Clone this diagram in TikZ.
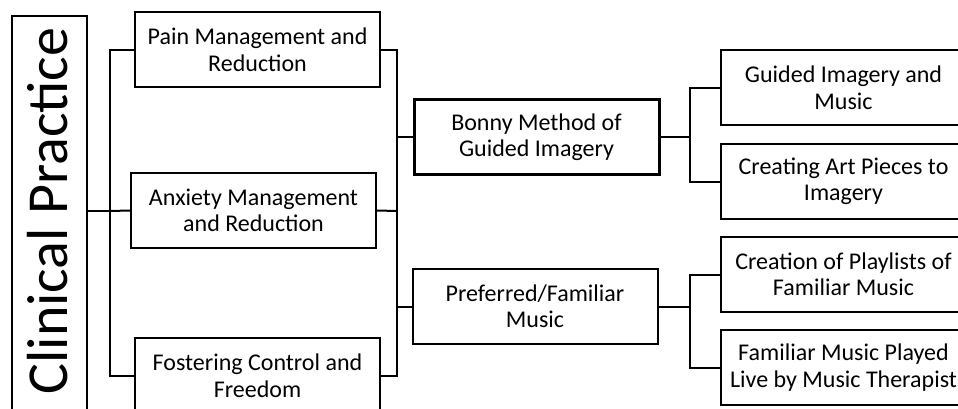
\documentclass[tikz,border=0pt]{standalone}
\usepackage{fontspec}
\setmainfont{Carlito}
\begin{document}
\begin{tikzpicture}[x=1pt,y=-1pt,
  box/.style={draw=black,line width=2pt,inner sep=0pt,align=center,
    minimum width=245pt,minimum height=75pt,
    font=\fontsize{24}{26.5}\selectfont},
  boxthick/.style={box,line width=3pt},
  conn/.style={draw=black,line width=2pt}]
\useasboundingbox (0,0) rectangle (958,409);
\clip (0,0) rectangle (958,409);
\fill[white] (0,0) rectangle (958,409);
% root
\node[draw=black,line width=2pt,minimum width=75pt,minimum height=404pt,inner sep=0pt] (cp) at (49.5,218) {};
\node[rotate=90,anchor=base,font=\fontsize{58}{60}\selectfont,inner sep=0pt] (cpt) at (67,211) {Clinical Practice};
% level 1
\node[box] (pain) at (257.5,50) {Pain Management and\\Reduction};
\node[box] (anx) at (253.5,210.5) {Anxiety Management\\and Reduction};
\node[box] (fost) at (257.5,375.5) {Fostering Control and\\Freedom};
% level 2
\node[boxthick] (bonny) at (536.5,137) {Bonny Method of\\Guided Imagery};
\node[box] (pref) at (535,306.5) {Preferred/Familiar\\Music};
% level 3
\node[box] (gim) at (843.5,88) {Guided Imagery and\\Music};
\node[box] (art) at (843.5,181.5) {Creating Art Pieces to\\Imagery};
\node[box] (play) at (843.5,274.5) {Creation of Playlists of\\Familiar Music};
\node[box] (live) at (843.5,367.5) {Familiar Music Played\\Live by Music Therapist};
% buses
\coordinate (b1) at (110,211);
\coordinate (b2) at (397,211);
\coordinate (b3) at (690,137);
\coordinate (b4) at (690,306.5);
\draw[conn] (cp.east |- b1) -- (b1);
\draw[conn] (b1) |- (pain.west);
\draw[conn] (b1) -- (anx.west);
\draw[conn] (b1) |- (fost.west);
\draw[conn] (pain.east) -| (b2);
\draw[conn] (anx.east) -- (b2);
\draw[conn] (fost.east) -| (b2);
\draw[conn] (b2) |- (bonny.west);
\draw[conn] (b2) |- (pref.west);
\draw[conn] (bonny.east) -- (b3);
\draw[conn] (b3) |- (gim.west);
\draw[conn] (b3) |- (art.west);
\draw[conn] (pref.east) -- (b4);
\draw[conn] (b4) |- (play.west);
\draw[conn] (b4) |- (live.west);
\end{tikzpicture}
\end{document}
